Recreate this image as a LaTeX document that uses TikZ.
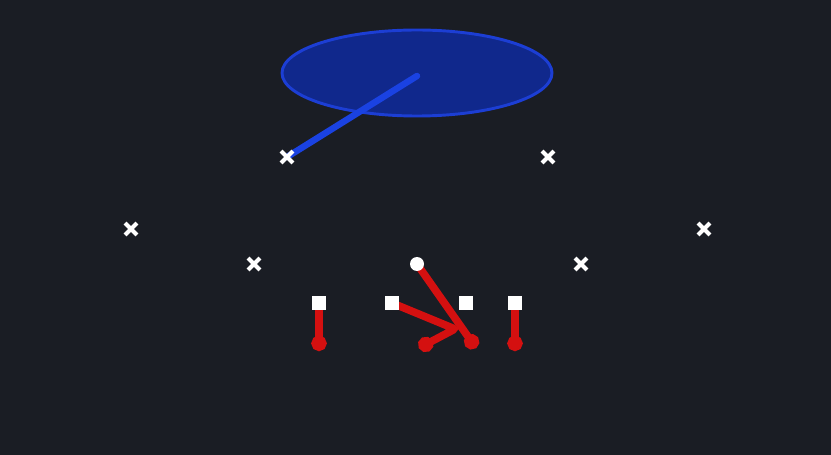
\documentclass[tikz,border=0pt]{standalone}
\usetikzlibrary{arrows.meta,shapes.misc}
\definecolor{fieldbg}{RGB}{26,29,36}
\definecolor{zonefill}{RGB}{16,40,140}
\definecolor{zoneline}{RGB}{28,62,212}
\definecolor{passblue}{RGB}{26,66,226}
\definecolor{routered}{RGB}{212,16,16}
\pgfdeclarelayer{field}
\pgfdeclarelayer{routes}
\pgfsetlayers{field,routes,main}
\tikzset{
  defender/.style={cross out,draw=white,line width=3.4pt,minimum size=0.24cm,inner sep=0pt},
  lineman/.style={rectangle,fill=white,minimum size=0.44cm,inner sep=0pt},
  ballcarrier/.style={circle,fill=white,minimum size=0.42cm,inner sep=0pt},
  route/.style={draw=routered,line width=6.5pt,-{Circle[length=13pt,width=13pt]}},
}
\begin{document}
\begin{tikzpicture}[x=0.03cm,y=-0.03cm]
    \begin{pgfonlayer}{field}
      \fill[fieldbg] (0,0) rectangle (831,455);
      % zone
      \draw[zoneline,fill=zonefill,line width=2.5pt] (417,73) ellipse [x radius=135,y radius=43];
    \end{pgfonlayer}
    \coordinate (drop) at (417,76);
    % defense
    \node[defender] (fs) at (287,157) {};
    \node[defender] (ss) at (548,157) {};
    \node[defender] (lc) at (131,229) {};
    \node[defender] (rc) at (704,229) {};
    \node[defender] (lb) at (254,264) {};
    \node[defender] (rb) at (581,264) {};
    % offense
    \node[ballcarrier] (qb) at (417,264) {};
    \node[lineman] (lt) at (319,303) {};
    \node[lineman] (lg) at (392,303) {};
    \node[lineman] (rg) at (466,303) {};
    \node[lineman] (rt) at (515,303) {};
    % routes
    \coordinate (ltend) at (319,351);
    \coordinate (rtend) at (515,351);
    \coordinate (qbend) at (476,348);
    \coordinate (lgturn) at (455,329);
    \coordinate (lgend) at (419,348);
    \begin{pgfonlayer}{routes}
      \draw[passblue,line width=5.5pt,line cap=round] (fs.center) -- (drop);
      \draw[route] (lt.center) -- (ltend);
      \draw[route] (rt.center) -- (rtend);
      \draw[route] (qb.center) -- (qbend);
      \draw[route,rounded corners=2pt] (lg.center) -- (lgturn) -- (lgend);
    \end{pgfonlayer}
\end{tikzpicture}
\end{document}
